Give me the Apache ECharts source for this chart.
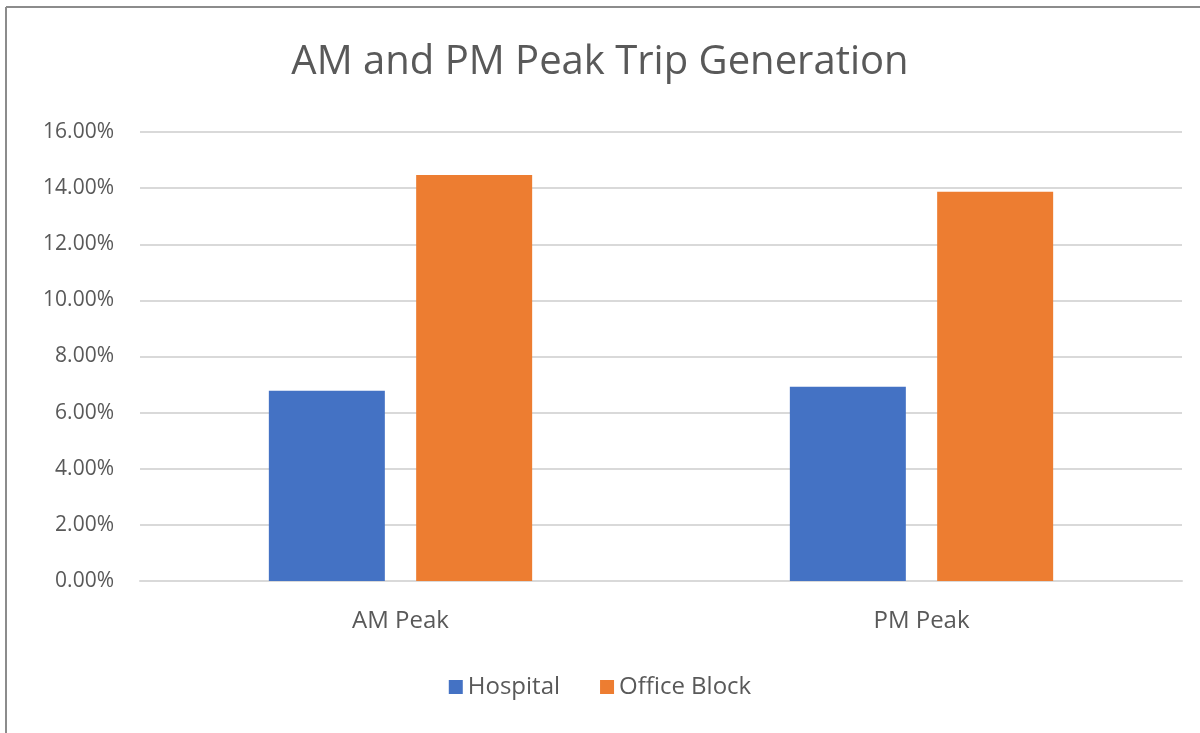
<!DOCTYPE html>
<html>
<head>
<meta charset="utf-8">
<title>AM and PM Peak Trip Generation</title>
<script src="https://cdn.jsdelivr.net/npm/echarts@6/dist/echarts.min.js"></script>
<style>
  html, body { margin: 0; padding: 0; background: #fff; }
  #main { width: 1200px; height: 733px; }
</style>
</head>
<body>
<div id="main"></div>
<script>
// chart data
var categories = ['AM Peak', 'PM Peak'];
var hospital = [6.78, 6.92];
var officeBlock = [14.47, 13.87];
var yTicks = [0, 2, 4, 6, 8, 10, 12, 14, 16];

window.onload = function () {
	var myChart = echarts.init(document.getElementById('main'));
	var font = '"Open Sans", "Noto Sans", sans-serif';
	var option = {
		backgroundColor: '#fff',
		animation: false,
		title: {
			text: 'AM and PM Peak Trip Generation',
			left: 'center',
			top: 38,
			textStyle: { color: '#595959', fontSize: 40, fontWeight: 'normal', fontFamily: font }
		},
		// frame lines at top and left of the picture
		graphic: [
			{ type: 'line', shape: { x1: 6, y1: 7, x2: 1200, y2: 7 }, style: { stroke: '#8c8c8c', lineWidth: 2 } },
			{ type: 'line', shape: { x1: 6, y1: 7, x2: 6, y2: 733 }, style: { stroke: '#8c8c8c', lineWidth: 2 } }
		],
		legend: {
			data: ['Hospital', 'Office Block'],
			bottom: 29,
			left: 'center',
			itemWidth: 14,
			itemHeight: 14,
			itemGap: 40,
			icon: 'rect',
			textStyle: { color: '#595959', fontSize: 24, fontFamily: font }
		},
		grid: { left: 140, right: 18, top: 132, bottom: 152 },
		xAxis: {
			type: 'category',
			data: categories,
			axisLine: { lineStyle: { color: '#d9d9d9', width: 2 } },
			axisTick: { show: false },
			axisLabel: { color: '#595959', fontSize: 24, fontFamily: font, margin: 28 }
		},
		yAxis: {
			type: 'value',
			min: yTicks[0],
			max: yTicks[yTicks.length - 1],
			interval: yTicks[1] - yTicks[0],
			axisLine: { show: false },
			axisTick: { show: false },
			splitLine: { lineStyle: { color: '#d9d9d9', width: 2 } },
			axisLabel: {
				color: '#595959', fontSize: 21, fontFamily: font, margin: 26,
				formatter: function (v) { return v.toFixed(2) + '%'; }
			}
		},
		series: [
			{
				name: 'Hospital',
				type: 'bar',
				data: hospital,
				barWidth: 116,
				barGap: '27%',
				itemStyle: { color: '#4472c4' }
			},
			{
				name: 'Office Block',
				type: 'bar',
				data: officeBlock,
				barWidth: 116,
				barGap: '27%',
				itemStyle: { color: '#ed7d31' }
			}
		]
	};
	myChart.setOption(option);
};
</script>
</body>
</html>
